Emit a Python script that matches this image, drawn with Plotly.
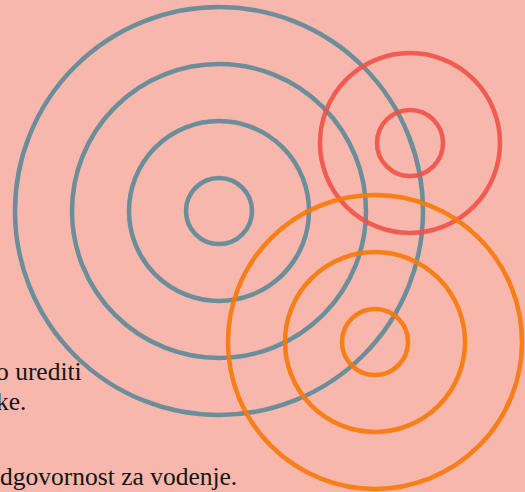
import plotly.graph_objects as go

# ring groups: centre (x, y) in pixels of the canvas, radii of each ring
group_names = ["blue", "red", "orange"]
centers_x = [219, 410, 375]
centers_y = [211, 143, 342]
radii = [[33, 90, 147, 204], [33, 90], [33, 90, 147]]
colors = ["rgba(96,138,152,0.92)", "rgba(240,80,70,0.88)", "rgba(247,120,10,0.92)"]

# visible (cropped) text lines
text_lines = ["o urediti", "ke.", "dgovornost za vodenje."]
text_left_x = [-5, -5, -1]
text_baseline_y = [380, 410, 485]

W, H = 525, 492
BG = "#f7b7ad"

fig = go.Figure()
fig.add_trace(go.Scatter(x=[0, W], y=[0, H], mode="markers", marker=dict(opacity=0), hoverinfo="skip", showlegend=False))

shapes = []
for name, cx, cy, rs, col in zip(group_names, centers_x, centers_y, radii, colors):
    for r in rs:
        shapes.append(dict(type="circle", xref="x", yref="y",
                           x0=cx - r, x1=cx + r, y0=cy - r, y1=cy + r,
                           line=dict(color=col, width=4.5), fillcolor="rgba(0,0,0,0)", layer="above"))

annotations = []
for t, xl, yb in zip(text_lines, text_left_x, text_baseline_y):
    annotations.append(dict(text=t, x=xl / W, y=yb, xref="paper", yref="y", xanchor="left", yanchor="bottom",
                            showarrow=False, yshift=-7, borderpad=0, align="left",
                            font=dict(family="Liberation Serif, serif", size=25.5, color="#151515")))

fig.update_layout(
    width=W, height=H, margin=dict(l=0, r=0, t=0, b=0),
    paper_bgcolor=BG, plot_bgcolor=BG,
    xaxis=dict(range=[0, W], visible=False, fixedrange=True),
    yaxis=dict(range=[H, 0], visible=False, fixedrange=True),
    shapes=shapes, annotations=annotations, showlegend=False,
)
fig.write_html("out.html", config={"displayModeBar": False},
               post_script="document.body.style.margin='0';document.body.style.overflow='hidden';")
